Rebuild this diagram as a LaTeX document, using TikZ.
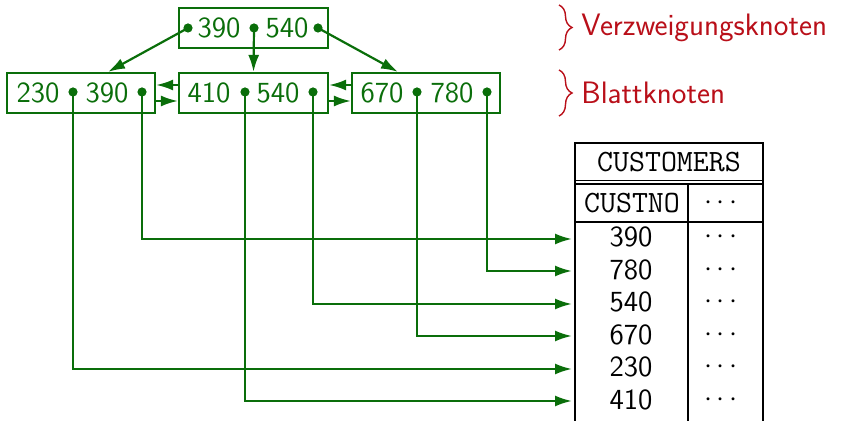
\documentclass[tikz,border=0pt]{standalone}
\usetikzlibrary{arrows.meta,decorations.pathreplacing}
\definecolor{tgreen}{RGB}{10,110,10}
\definecolor{tred}{RGB}{185,15,25}
\begin{document}
\begin{tikzpicture}[x=0.5pt,y=-0.5pt,
  box/.style={draw=tgreen,line width=1.1pt,minimum width=74pt,minimum height=20pt,inner sep=0pt},
  num/.style={text=tgreen,inner sep=0pt,font=\sffamily\fontsize{14.6}{17}\selectfont},
  tnum/.style={inner sep=0pt,font=\sffamily\fontsize{14.6}{17}\selectfont},
  ttx/.style={inner sep=0pt,font=\ttfamily\fontsize{15.5}{18}\selectfont},
  lab/.style={text=tred,inner sep=0pt,anchor=west,font=\sffamily\fontsize{15.5}{18}\selectfont},
  arr/.style={draw=tgreen,line width=1.1pt,-{Latex[length=8.5pt,width=5.5pt]}},
  dotc/.style={fill=tgreen},
  tline/.style={draw=black,line width=1.1pt},
  brc/.style={draw=tred,line width=0.7pt,decorate,decoration={brace,amplitude=6.5pt}}]
\useasboundingbox (0,0) rectangle (846,421);
% boxes
\node[box,minimum width=74.5pt] (top) at (253.5,28) {};
\node[box] (l) at (81,93) {};
\node[box,minimum width=74.5pt] (m) at (253.5,93) {};
\node[box] (r) at (426,93) {};
% texts
\node[num] (t1) at (219,28) {390};
\node[num] (t2) at (287,28) {540};
\node[num] (l1) at (38,93) {230};
\node[num] (l2) at (107,93) {390};
\node[num] (m1) at (209,93) {410};
\node[num] (m2) at (278,93) {540};
\node[num] (r1) at (382,93) {670};
\node[num] (r2) at (452,93) {780};
% dots
\coordinate (td0) at (188,28);
\coordinate (td1) at (254,28);
\coordinate (td2) at (318,28);
\coordinate (ld1) at (73,92);
\coordinate (ld2) at (142,92);
\coordinate (md1) at (245,92);
\coordinate (md2) at (313,92);
\coordinate (rd1) at (417,92);
\coordinate (rd2) at (487,92);
% table row targets
\coordinate (row1) at (572,239);
\coordinate (row2) at (572,271);
\coordinate (row3) at (572,304);
\coordinate (row4) at (572,336);
\coordinate (row5) at (572,369);
\coordinate (row6) at (572,401);
% tree arrows
\draw[arr] (td0) -- ([xshift=13.5pt]l.north);
\draw[arr] (td1) -- (m.north);
\draw[arr] (td2) -- ([xshift=-14pt]r.north);
% sibling arrows
\draw[arr] ([yshift=4pt]m.west) -- ([yshift=4pt]l.east);
\draw[arr] ([yshift=-4pt]l.east) -- ([yshift=-4pt]m.west);
\draw[arr] ([yshift=4pt]r.west) -- ([yshift=4pt]m.east);
\draw[arr] ([yshift=-4pt]m.east) -- ([yshift=-4pt]r.west);
% leaf to table arrows
\draw[arr] (ld2) |- (row1);
\draw[arr] (rd2) |- (row2);
\draw[arr] (md2) |- (row3);
\draw[arr] (rd1) |- (row4);
\draw[arr] (ld1) |- (row5);
\draw[arr] (md1) |- (row6);
% dots drawn on top
\foreach \c in {td0,td1,td2,ld1,ld2,md1,md2,rd1,rd2}
  \fill[dotc] (\c) circle (2.3pt);
% table
\coordinate (tl) at (575,143);
\coordinate (tr) at (763,143);
\coordinate (bl) at (575,421);
\coordinate (br) at (763,421);
\draw[tline] (bl) -- (tl) -- (tr) -- (br);
\draw[tline,line width=0.7pt] (575,180.5) -- (763,180.5);
\draw[tline,line width=0.7pt] (575,184) -- (763,184);
\draw[tline] (575,222) -- (763,222);
\draw[tline] (688,184) -- (688,421);
\node[ttx] (title) at (669,162) {CUSTOMERS};
\node[ttx] (hcust) at (632,203) {CUSTNO};
\node[tnum] (hdots) at (721,203) {$\cdots$};
\node[tnum] (v1) at (631,237) {390};
\node[tnum] (v2) at (631,270) {780};
\node[tnum] (v3) at (631,302) {540};
\node[tnum] (v4) at (631,335) {670};
\node[tnum] (v5) at (631,367) {230};
\node[tnum] (v6) at (631,400) {410};
\foreach \y/\n in {237/e1,270/e2,302/e3,335/e4,367/e5,400/e6}
  \node[tnum] (\n) at (721,\y) {$\cdots$};
% braces and labels
\draw[brc] (559,5) -- (559,50);
\draw[brc] (559,70) -- (559,116);
\node[lab] (vk) at (581,28) {Verzweigungsknoten};
\node[lab] (bk) at (581,93) {Blattknoten};
\end{tikzpicture}
\end{document}
